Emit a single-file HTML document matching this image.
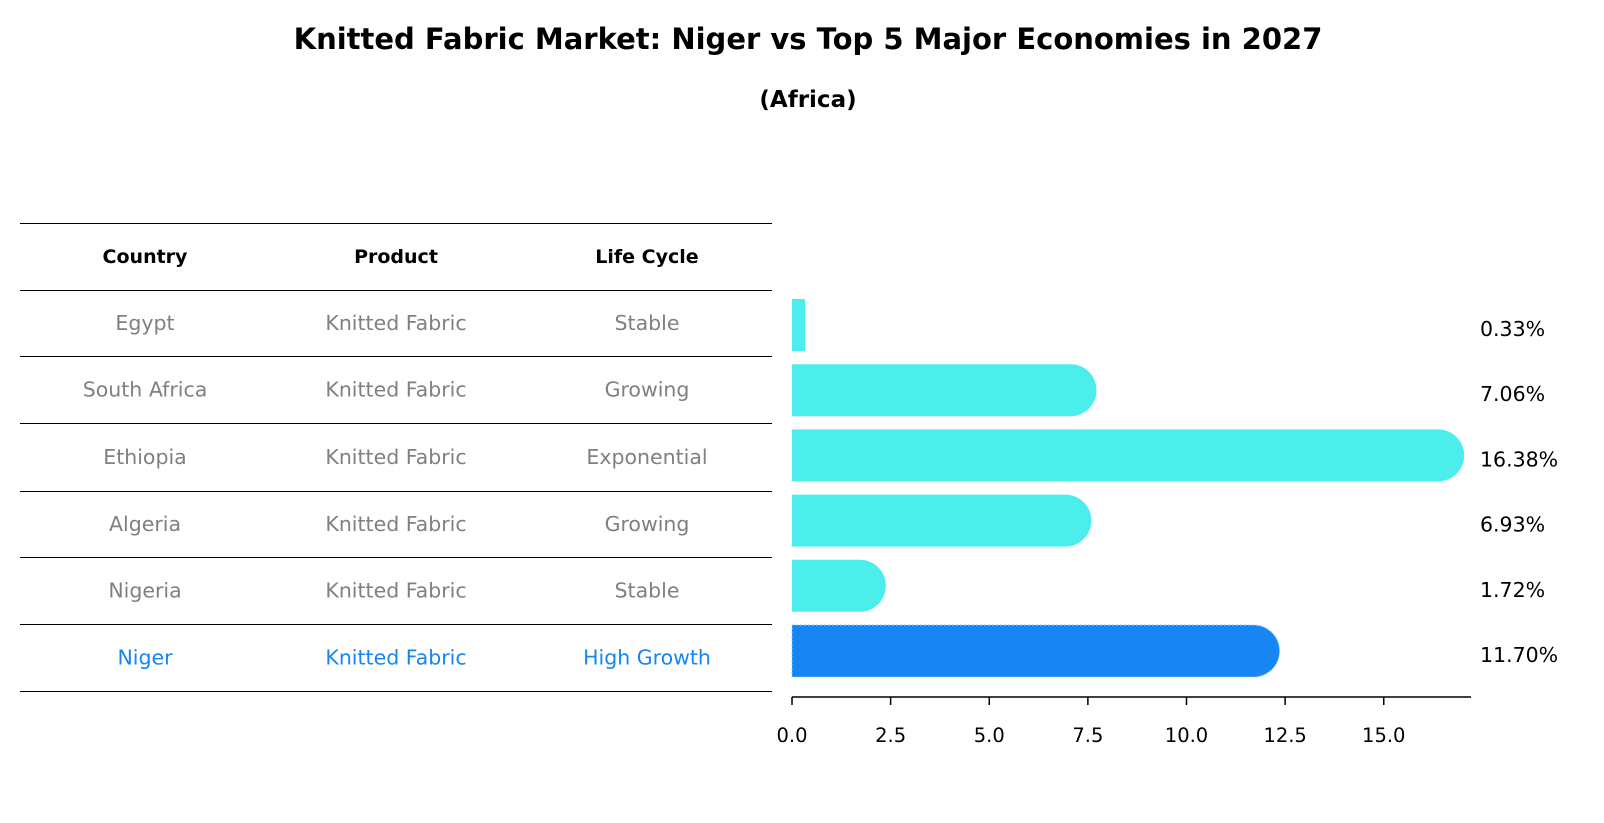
<!DOCTYPE html>
<html><head><meta charset="utf-8"><style>
body{margin:0;background:#fff}
svg{display:block;font-family:"DejaVu Sans","Liberation Sans",sans-serif}
</style></head><body>
<svg id="chart" width="1604" height="823" viewBox="0 0 1604 823">
<text x="808" y="49" text-anchor="middle" font-size="29" font-weight="bold">Knitted Fabric Market: Niger vs Top 5 Major Economies in 2027</text>
<text x="808" y="107" text-anchor="middle" font-size="23" font-weight="bold">(Africa)</text>
<g id="table"></g>
<g id="bars"></g>
</svg>
<script>
const countries=["Egypt","South Africa","Ethiopia","Algeria","Nigeria","Niger"];
const products=["Knitted Fabric","Knitted Fabric","Knitted Fabric","Knitted Fabric","Knitted Fabric","Knitted Fabric"];
const lifeCycles=["Stable","Growing","Exponential","Growing","Stable","High Growth"];
const values=[0.33,7.06,16.38,6.93,1.72,11.70];
const valueLabels=["0.33%","7.06%","16.38%","6.93%","1.72%","11.70%"];
const ticks=[0,2.5,5,7.5,10,12.5,15];
const tickLabels=["0.0","2.5","5.0","7.5","10.0","12.5","15.0"];

const NS="http://www.w3.org/2000/svg";
function mk(tag,attrs,parent,text){const e=document.createElementNS(NS,tag);for(const k in attrs)e.setAttribute(k,attrs[k]);if(text!==undefined)e.textContent=text;parent.appendChild(e);return e;}
const x0=792,scale=39.45;
const xs=v=>x0+v*scale;
const rowY=i=>325+i*65.2;
const barH=52;

const tbl=document.getElementById('table');
const lineYs=[223,290,356,423,491,557,624,691];
lineYs.forEach((y,i)=>{const l=mk('line',{x1:20,x2:772,y1:y+0.5,y2:y+0.5,stroke:'#000','stroke-width':1,'shape-rendering':'crispEdges'},tbl);

});
const colX=[145,396,647];
["Country","Product","Life Cycle"].forEach((h,j)=>{const t=mk('text',{x:colX[j],y:263,'text-anchor':'middle','font-size':19,'font-weight':'bold'},tbl,h);

});
countries.forEach((c,i)=>{
 const y=(lineYs[i+1]+lineYs[i+2])/2+7;
 const col=i===countries.length-1?'#1785f2':'#808080';
 [c,products[i],lifeCycles[i]].forEach((v,j)=>{const t=mk('text',{x:colX[j],y:y,'text-anchor':'middle','font-size':20.5,fill:col},tbl,v);
 
 });
});

const g=document.getElementById('bars');
values.forEach((v,i)=>{
 const cy=rowY(i),top=cy-barH/2,xe=xs(v),r=barH/2;
 const col=i===values.length-1?'#1785f2':'#4beeea';
 let d;
 if(v<1){d=`M${x0},${top}H${xe}V${top+barH}H${x0}Z`;}
 else d=`M${x0},${top}H${xe}A${r},${r} 0 0 1 ${xe},${top+barH}H${x0}Z`;
 const p=mk('path',{d:d,fill:col},g);
 if(i===values.length-1){p.setAttribute('stroke','#8ecbff');p.setAttribute('stroke-width','1');p.setAttribute('stroke-dasharray','2 2');}
 
 
 const t=mk('text',{x:1480,y:cy+11,'font-size':20.5},g,valueLabels[i]);
 
 
});
const ax=mk('line',{x1:x0,x2:1471,y1:697,y2:697,stroke:'#000','stroke-width':1.5},g);


ticks.forEach((t,i)=>{
 const tl=mk('line',{x1:xs(t),x2:xs(t),y1:697,y2:705,stroke:'#000','stroke-width':1.5},g);
 
 
 const tx=mk('text',{x:xs(t),y:742,'text-anchor':'middle','font-size':19.5},g,tickLabels[i]);
 
 
});
</script>
</body></html>
